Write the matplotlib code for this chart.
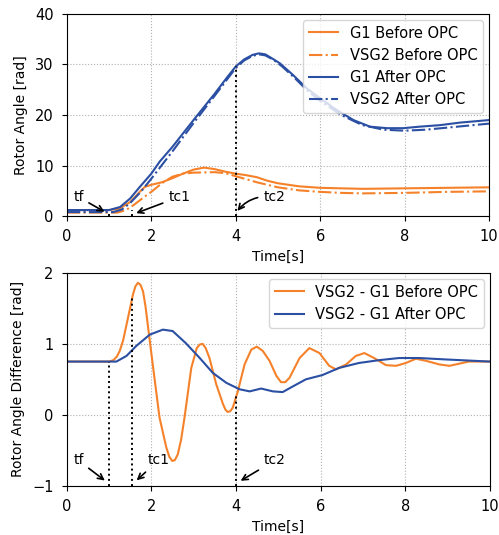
import matplotlib
matplotlib.use("Agg")
import matplotlib.pyplot as plt

# ---------------- data: top panel (rotor angles) ----------------
t_g1b = [0, 1.0, 1.25, 1.5, 1.75, 1.85, 2.0, 2.25, 2.5, 2.75, 3.0, 3.25, 3.5, 3.75, 4.0,
         4.25, 4.5, 4.75, 5.0, 5.5, 6.0, 7.0, 8.0, 9.0, 10.0]
g1_before = [1.2, 1.2, 1.5, 2.8, 5.0, 5.8, 6.2, 6.7, 7.5, 8.4, 9.2, 9.6, 9.3, 8.8, 8.4,
             8.1, 7.7, 7.0, 6.5, 5.9, 5.6, 5.4, 5.5, 5.6, 5.7]

t_v2b = [0, 1.2, 1.4, 1.6, 1.8, 2.0, 2.25, 2.5, 2.75, 3.0, 3.5, 3.75, 4.0, 4.25, 4.5,
         5.0, 5.5, 6.0, 6.5, 7.0, 8.0, 9.0, 10.0]
vsg2_before = [0.7, 0.7, 1.2, 2.3, 3.6, 4.8, 6.5, 7.8, 8.4, 8.6, 8.7, 8.5, 7.9, 7.3, 6.7,
               5.7, 5.1, 4.8, 4.6, 4.5, 4.6, 4.8, 4.9]

t_g1a = [0, 1.0, 1.26, 1.5, 1.73, 2.0, 2.2, 2.5, 3.0, 3.5, 3.8, 4.0, 4.2, 4.4, 4.55, 4.7,
         4.9, 5.05, 5.36, 5.68, 6.0, 6.39, 6.79, 7.18, 7.58, 7.97, 8.36, 8.84, 9.31, 10.0]
g1_after = [1.2, 1.2, 1.8, 3.5, 5.8, 8.4, 10.8, 13.7, 19.0, 24.2, 27.5, 29.6, 31.0, 31.9, 32.2, 32.0,
            31.0, 30.2, 27.9, 25.3, 23.3, 21.0, 19.0, 17.7, 17.4, 17.4, 17.7, 18.0, 18.5, 19.0]

t_v2a = [0, 1.1, 1.3, 1.5, 1.75, 2.0, 2.5, 3.0, 3.5, 4.0, 4.2, 4.4, 4.55, 4.7, 4.9, 5.1,
         5.4, 5.7, 6.0, 6.5, 7.0, 7.5, 8.0, 8.5, 9.0, 9.5, 10.0]
vsg2_after = [0.8, 0.8, 1.3, 2.6, 4.8, 7.4, 12.8, 18.4, 23.8, 29.3, 30.8, 31.7, 32.0, 31.8, 30.9, 29.6,
              27.3, 24.8, 22.8, 20.0, 18.0, 17.1, 16.9, 17.1, 17.5, 17.9, 18.3]

# ---------------- data: bottom panel (angle difference) ----------------
t_db = [0, 1.0, 1.1, 1.18, 1.25, 1.33, 1.41, 1.50, 1.56, 1.62, 1.68, 1.74, 1.80, 1.86, 1.92, 2.04, 2.19,
        2.35, 2.42, 2.49, 2.55, 2.62, 2.70, 2.78,
        2.94, 3.07, 3.14, 3.21, 3.28, 3.37, 3.53, 3.69, 3.75, 3.80, 3.86, 3.92, 4.04, 4.20,
        4.36, 4.49, 4.63, 4.79,
        4.95, 5.06, 5.16, 5.26, 5.50, 5.73, 5.97, 6.20, 6.36, 6.60, 6.83, 7.03, 7.26, 7.54,
        7.78, 8.01, 8.25, 8.49, 8.80, 9.04, 9.27, 9.50, 10.0]
diff_before = [0.75, 0.75, 0.77, 0.82, 0.90, 1.05, 1.27, 1.52, 1.69, 1.81, 1.86, 1.83, 1.74, 1.52, 1.23, 0.66, -0.04,
               -0.46, -0.59, -0.65, -0.64, -0.56, -0.35, -0.04,
               0.66, 0.94, 0.99, 1.0, 0.94, 0.80, 0.43, 0.15, 0.07, 0.04, 0.05, 0.10, 0.33, 0.71,
               0.92, 0.96, 0.90, 0.76,
               0.55, 0.46, 0.46, 0.52, 0.80, 0.94, 0.87, 0.69, 0.64, 0.71, 0.83, 0.87, 0.80, 0.70,
               0.69, 0.73, 0.79, 0.76, 0.71, 0.69, 0.72, 0.75, 0.75]

t_da = [0, 1.17, 1.41, 1.64, 1.96, 2.27, 2.50, 2.81, 3.14, 3.45, 3.77, 4.08, 4.32, 4.59, 4.87,
        5.10, 5.34, 5.65, 6.04, 6.43, 6.90, 7.38, 7.85, 8.32, 8.95, 10.0]
diff_after = [0.75, 0.75, 0.83, 0.97, 1.13, 1.20, 1.18, 1.01, 0.80, 0.59, 0.45, 0.36, 0.33, 0.37, 0.33,
              0.32, 0.40, 0.50, 0.56, 0.66, 0.73, 0.77, 0.80, 0.80, 0.78, 0.75]

# event times and dotted-line heights
ev_t = [1.0, 1.55, 4.0]
ev_top = [1.0, 1.2, 29.6]
ev_bot = [0.75, 1.65, 0.30]

ORANGE = "#f5822a"
BLUE = "#2a4fa3"

plt.rcParams["font.family"] = ["DejaVu Sans"]
fig = plt.figure(figsize=(4.99, 5.35), dpi=100)
ax1 = fig.add_axes([0.134, 0.596, 0.846, 0.378])
ax2 = fig.add_axes([0.134, 0.092, 0.848, 0.398])

# ---- top ----
ax1.plot(t_g1b, g1_before, color=ORANGE, lw=1.5, label="G1 Before OPC")
ax1.plot(t_v2b, vsg2_before, color=ORANGE, lw=1.5, ls="-.", label="VSG2 Before OPC")
ax1.plot(t_g1a, g1_after, color=BLUE, lw=1.5, label="G1 After OPC")
ax1.plot(t_v2a, vsg2_after, color=BLUE, lw=1.5, ls="-.", label="VSG2 After OPC")
for x, h in zip(ev_t, ev_top):
    ax1.plot([x, x], [0, h], color="black", ls=":", lw=1.4)
ax1.set_xlim(0, 10)
ax1.set_ylim(0, 40)
ax1.set_xticks([0, 2, 4, 6, 8, 10])
ax1.set_yticks([0, 10, 20, 30, 40])
ax1.grid(True, ls=":", color="#b0b0b0", lw=0.8)
ax1.set_xlabel("Time[s]", fontsize=10, labelpad=4)
ax1.set_ylabel("Rotor Angle [rad]", fontsize=10, labelpad=5)
ax1.tick_params(labelsize=10.5, pad=6)
ax1.legend(loc="upper right", fontsize=10.5, handlelength=2.0, borderaxespad=0.4)
arr = dict(arrowstyle="->", color="black", lw=1.2)
ax1.annotate("tf", xy=(0.95, 0.6), xytext=(0.15, 3.0), fontsize=10, arrowprops=arr)
ax1.annotate("tc1", xy=(1.58, 0.4), xytext=(2.4, 3.0), fontsize=10, arrowprops=arr)
ax1.annotate("tc2", xy=(4.0, 0.6), xytext=(4.65, 3.0), fontsize=10,
             arrowprops=dict(arrowstyle="->", color="black", lw=1.2,
                             connectionstyle="arc3,rad=0.3"))

# ---- bottom ----
ax2.plot(t_db, diff_before, color=ORANGE, lw=1.5, label="VSG2 - G1 Before OPC")
ax2.plot(t_da, diff_after, color=BLUE, lw=1.5, label="VSG2 - G1 After OPC")
for x, h in zip(ev_t, ev_bot):
    ax2.plot([x, x], [-1, h], color="black", ls=":", lw=1.4)
ax2.set_xlim(0, 10)
ax2.set_ylim(-1, 2)
ax2.set_xticks([0, 2, 4, 6, 8, 10])
ax2.set_yticks([-1, 0, 1, 2])
ax2.grid(True, ls=":", color="#b0b0b0", lw=0.8)
ax2.set_xlabel("Time[s]", fontsize=10, labelpad=4)
ax2.set_ylabel("Rotor Angle Difference [rad]", fontsize=10, labelpad=5)
ax2.tick_params(labelsize=10.5, pad=6)
ax2.legend(loc="upper right", fontsize=10.5, handlelength=2.0, borderaxespad=0.4)
ax2.annotate("tf", xy=(0.95, -0.95), xytext=(0.15, -0.7), fontsize=10, arrowprops=arr)
ax2.annotate("tc1", xy=(1.6, -0.95), xytext=(1.9, -0.7), fontsize=10, arrowprops=arr)
ax2.annotate("tc2", xy=(4.05, -0.95), xytext=(4.65, -0.7), fontsize=10, arrowprops=arr)

fig.savefig("out.png", dpi=100)
